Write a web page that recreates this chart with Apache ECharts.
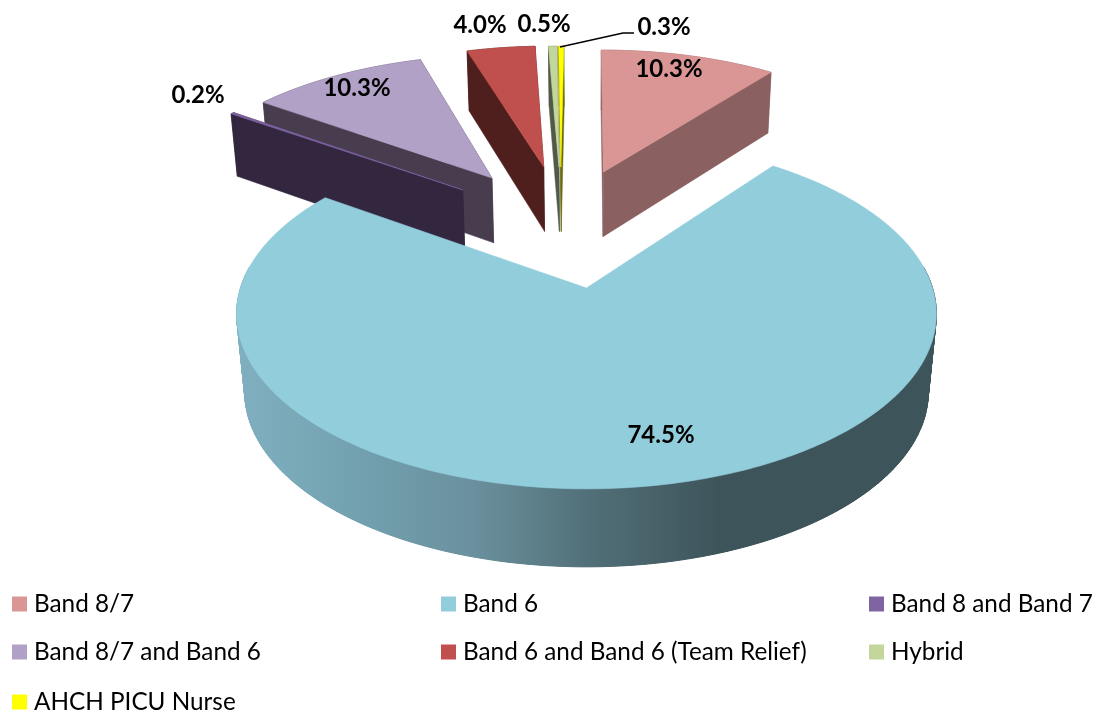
<html>

<head>
    <meta charset='utf-8' />
    <script src="https://cdn.jsdelivr.net/npm/echarts@6/dist/echarts.min.js"></script>
    <title>Pie Chart</title>
    <style>
        html, body {
            margin: 0;
            background: #ffffff;
            overflow: hidden;
        }

        #chart {
            width: 1099px;
            height: 710px;
        }
    </style>
</head>

<body>
    <div id="chart"></div>
    <script type="text/javascript">
        var categories = ['Band 8/7', 'Band 6', 'Band 8 and Band 7', 'Band 8/7 and Band 6', 'Band 6 and Band 6 (Team Relief)', 'Hybrid', 'AHCH PICU Nurse'];
        var values = [10.3, 74.5, 0.2, 10.3, 4.0, 0.5, 0.3];
        var topColors = ['#D99694', '#92CDDC', '#8064A2', '#B2A1C7', '#C0504D', '#C3D69B', '#FFFF00'];
        var wallColors = ['#8A6060', '#3D545A', '#33263F', '#483D4F', '#4F1F1E', '#505A47', '#6B6B12'];

        // explode offset of each slice on the pie plane (pie radius = 1)
        var offsetX = [0.054, 0, -0.391, -0.302, -0.138, -0.089, -0.083];
        var offsetY = [0.754, 0, 0.627, 0.711, 0.791, 0.79, 0.79];
        // label centres in pixels
        var labelX = [669, 661, 198, 357, 480, 544, 664];
        var labelY = [69, 435, 95, 88, 25, 24, 27];
        // paint order, back to front
        var paintOrder = [0, 3, 4, 5, 6, 2, 1];

        var originX = 586.5, originY = 288;
        var perspective = 0.1486;
        var topScaleX = 346, topScaleY = 171;
        // underside of the exploded slices, and of the big slice
        var baseScaleX = 340, baseScaleY = 177.5, baseDrop = 69;
        var bigBaseScaleX = 338, bigBaseScaleY = 171, bigBaseDrop = 78;

        var total = values.reduce(function(a, b) {
            return a + b;
        }, 0);

        function project(idx, x, y, isBase) {
            var w = 1 + perspective * y;
            if (isBase) {
                var sx = idx === 1 ? bigBaseScaleX : baseScaleX;
                var sy = idx === 1 ? bigBaseScaleY : baseScaleY;
                var drop = idx === 1 ? bigBaseDrop : baseDrop;
                return [originX + sx * x / w, originY + drop - sy * y / w];
            }
            return [originX + topScaleX * x / w, originY - topScaleY * y / w];
        }

        function rimPoint(idx, angle, isBase) {
            return project(idx, offsetX[idx] + Math.sin(angle), offsetY[idx] + Math.cos(angle), isBase);
        }

        function rimPoints(idx, start, end, isBase) {
            var steps = Math.max(2, Math.ceil((end - start) * 60));
            var pts = [];
            for (var i = 0; i <= steps; i++) {
                pts.push(rimPoint(idx, start + (end - start) * i / steps, isBase));
            }
            return pts;
        }

        function sliceRange(idx) {
            var before = 0;
            for (var i = 0; i < idx; i++) {
                before += values[i];
            }
            return [before / total * Math.PI * 2, (before + values[idx]) / total * Math.PI * 2];
        }

        function wallFill(idx) {
            if (idx !== 1) {
                return wallColors[idx];
            }
            return new echarts.graphic.LinearGradient(237, 0, 937, 0, [
                { offset: 0, color: '#80B0C0' },
                { offset: 0.18, color: '#72A0AE' },
                { offset: 0.34, color: '#6A909D' },
                { offset: 0.5, color: '#527079' },
                { offset: 0.69, color: '#3D545A' },
                { offset: 1, color: '#3D545A' }
            ], true);
        }

        function makeRenderItem(idx) {
            return function(params, api) {
                var value = api.value(0);
                var range = sliceRange(idx);
                var apexTop = project(idx, offsetX[idx], offsetY[idx], false);
                var apexBase = project(idx, offsetX[idx], offsetY[idx], true);
                var rimTop = rimPoints(idx, range[0], range[1], false);
                var rimBase = rimPoints(idx, range[0], range[1], true);
                var fill = wallFill(idx);
                var children = [];

                function wall(points, lineWidth) {
                    children.push({
                        type: 'polygon',
                        shape: { points: points },
                        style: { fill: fill, stroke: lineWidth ? fill : null, lineWidth: lineWidth }
                    });
                }
                if (idx === 1) {
                    // only the near half shows; strips give the straight outer edge,
                    // the one polygon over them hides their seams
                    var nearStart = Math.PI * 0.46, nearEnd = Math.PI * 1.54;
                    var nearTop = rimPoints(idx, nearStart, nearEnd, false);
                    var nearBase = rimPoints(idx, nearStart, nearEnd, true);
                    for (var i = 0; i < nearTop.length - 1; i++) {
                        wall([nearTop[i], nearTop[i + 1], nearBase[i + 1], nearBase[i]], 1);
                    }
                    wall(nearTop.concat(nearBase.slice().reverse()), 0);
                } else {
                    wall([apexTop, rimTop[0], rimBase[0], apexBase], 0.5);
                    wall([apexTop, rimTop[rimTop.length - 1], rimBase[rimBase.length - 1], apexBase], 0.5);
                    wall(rimTop.concat(rimBase.slice().reverse()), 0.5);
                }

                children.push({
                    type: 'polygon',
                    shape: { points: [apexTop].concat(rimTop) },
                    style: { fill: topColors[idx], stroke: topColors[idx], lineWidth: 0.6 }
                });
                // leader line of the smallest slice
                if (idx === 6) {
                    children.push({
                        type: 'polyline',
                        shape: { points: [[560, 47], [623, 33], [634, 33]] },
                        style: { fill: null, stroke: '#000000', lineWidth: 1.5 }
                    });
                }
                children.push({
                    type: 'text',
                    style: {
                        text: value.toFixed(1) + '%',
                        x: labelX[idx],
                        y: labelY[idx],
                        align: 'center',
                        verticalAlign: 'middle',
                        fontFamily: 'Lato',
                        fontWeight: 'bold',
                        fontSize: 24,
                        fill: '#000000'
                    }
                });
                return { type: 'group', children: children };
            };
        }

        function legendColumn(left, top, names) {
            return {
                left: left,
                top: top,
                orient: 'vertical',
                itemGap: 24,
                itemWidth: 15,
                itemHeight: 15,
                icon: 'rect',
                selectedMode: false,
                padding: 0,
                textStyle: {
                    fontFamily: 'Lato',
                    fontSize: 24.3,
                    lineHeight: 20,
                    color: '#000000',
                    padding: [0, 0, 0, 2]
                },
                data: names
            };
        }

        var chart = echarts.init(document.getElementById('chart'));
        var option = {
            animation: false,
            legend: [
                legendColumn(12, 592, [categories[0], categories[3]]),
                legendColumn(12, 690, [categories[6]]),
                legendColumn(441, 592, [categories[1], categories[4]]),
                legendColumn(869, 592, [categories[2], categories[5]])
            ],
            series: categories.map(function(name, idx) {
                return {
                    name: name,
                    type: 'custom',
                    coordinateSystem: 'none',
                    silent: true,
                    z: 2 + paintOrder.indexOf(idx),
                    itemStyle: { color: topColors[idx] },
                    renderItem: makeRenderItem(idx),
                    data: [[values[idx]]]
                };
            })
        };
        chart.setOption(option);
    </script>
</body>

</html>
